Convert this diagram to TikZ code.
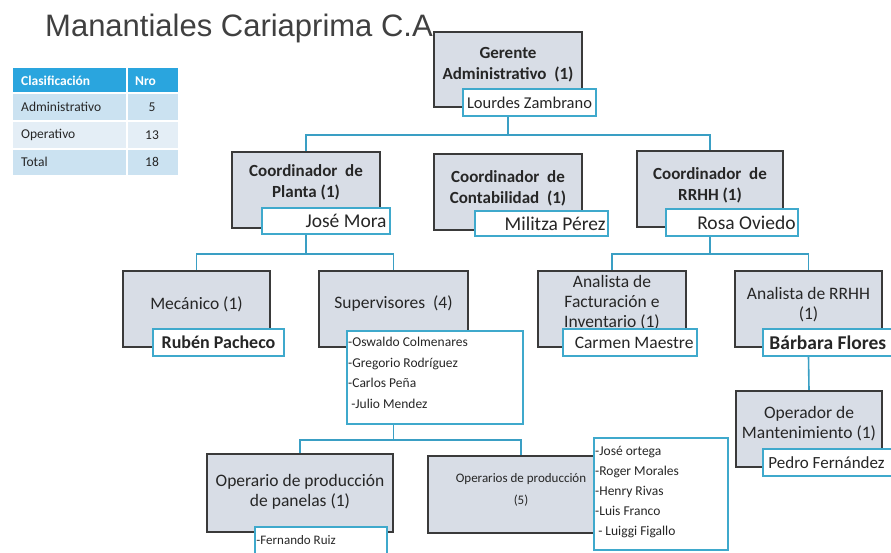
\documentclass[tikz,border=0pt]{standalone}
\usepackage{fontspec}
\setmainfont{Carlito}
\newfontfamily\titlefont{Liberation Sans}
\usetikzlibrary{backgrounds}
\definecolor{boxfill}{HTML}{D8DDE6}
\definecolor{boxline}{HTML}{3A3A3A}
\definecolor{cyanline}{HTML}{3FA9CC}
\definecolor{connc}{HTML}{3A9FC4}
\definecolor{txt}{HTML}{262626}
\definecolor{thead}{HTML}{2AA5DE}
\definecolor{trowa}{HTML}{CBE2F1}
\definecolor{trowb}{HTML}{E4EEF6}
\tikzset{
  gbox/.style={draw=boxline, fill=boxfill, line width=1.6pt, inner sep=0pt, rectangle},
  nbox/.style={draw=cyanline, fill=white, line width=1.5pt, inner sep=0pt, rectangle, text=txt},
  conn/.style={draw=connc, line width=1.6pt},
  gtext/.style={align=center, text=txt, inner sep=0pt, font=\fontsize{17.5}{20}\selectfont},
  btext/.style={align=center, text=txt, inner sep=0pt, font=\bfseries\fontsize{17}{21}\selectfont},
  ttext/.style={inner sep=0pt, text=txt, font=\fontsize{13.5}{15}\selectfont},
  thtext/.style={inner sep=0pt, anchor=west, text=white, font=\bfseries\fontsize{13.5}{15}\selectfont},
  ltext/.style={inner sep=0pt, text=txt, align=left, anchor=north west},
  ntext/.style={inner sep=0pt, text=txt},
}
\begin{document}
\begin{tikzpicture}[x=1pt,y=-1pt]
\clip (0,0) rectangle (891,552);

% title
\node[anchor=base west, inner sep=0pt, text=black!75, font=\titlefont\fontsize{31}{34}\selectfont] (title) at (45,36.5) {Manantiales Cariaprima C.A};

% table
\fill[thead] (13,68) rectangle (178,93);
\fill[trowa] (13,93) rectangle (178,121);
\fill[trowb] (13,121) rectangle (178,149);
\fill[trowa] (13,149) rectangle (178,175);
\draw[white, line width=1.5pt] (127,68) -- (127,175);
\draw[white, line width=1.5pt] (13,93) -- (178,93);
\draw[white, line width=1.5pt] (13,121) -- (178,121);
\draw[white, line width=1.5pt] (13,149) -- (178,149);
\node[thtext] (th1) at (21,81) {Clasificación};
\node[thtext] (th2) at (135,81) {Nro};
\node[ttext, anchor=west] (r1a) at (21,107) {Administrativo};
\node[ttext] (r1b) at (152,107) {5};
\node[ttext, anchor=west] (r2a) at (21,135) {Operativo};
\node[ttext] (r2b) at (152,135) {13};
\node[ttext, anchor=west] (r3a) at (21,162) {Total};
\node[ttext] (r3b) at (152,162) {18};

% level 1
\node[gbox, minimum width=148pt, minimum height=75pt] (ger) at (508,69.5) {};
\node[btext] (ger-t) at ([yshift=4.5pt]ger.center) {Gerente\\Administrativo\ \ (1)};
\node[nbox, minimum width=133pt, minimum height=27pt, font=\fontsize{16.5}{18}\selectfont] (lz) at (529.5,102.5) {Lourdes Zambrano};

% level 2
\node[gbox, minimum width=148pt, minimum height=76pt] (cp) at (306,190) {};
\node[btext] (cp-t) at ([yshift=8pt]cp.center) {Coordinador\ \ de\\Planta (1)};
\node[nbox, minimum width=128pt, minimum height=26pt] (jm) at (326,221) {};
\node[ntext, anchor=east, font=\fontsize{19.5}{22}\selectfont] (jm-t) at ([xshift=-4pt]jm.east) {José Mora};

\node[gbox, minimum width=148pt, minimum height=76pt] (cc) at (508,192) {};
\node[btext] (cc-t) at ([yshift=4pt]cc.center) {Coordinador\ \ de\\Contabilidad\ \ (1)};
\node[nbox, minimum width=133pt, minimum height=25pt] (mp) at (541.5,223.5) {};
\node[ntext, anchor=east, font=\fontsize{19.5}{22}\selectfont] (mp-t) at ([xshift=-3pt]mp.east) {Militza Pérez};

\node[gbox, minimum width=146pt, minimum height=76pt] (cr) at (710,189) {};
\node[btext] (cr-t) at ([yshift=4pt]cr.center) {Coordinador\ \ de\\RRHH (1)};
\node[nbox, minimum width=132pt, minimum height=27pt] (ro) at (732,222.5) {};
\node[ntext, anchor=east, font=\fontsize{19.5}{22}\selectfont] (ro-t) at ([xshift=-3pt]ro.east) {Rosa Oviedo};

% level 3
\node[gbox, minimum width=147pt, minimum height=76pt] (mec) at (196.5,309) {};
\node[gtext] (mec-t) at ([yshift=5pt]mec.center) {Mecánico (1)};
\node[nbox, minimum width=131pt, minimum height=27pt, font=\bfseries\fontsize{18}{20}\selectfont] (rp) at (218.5,342.5) {Rubén Pacheco};

\node[gbox, minimum width=149pt, minimum height=76pt] (sup) at (393.5,309) {};
\node[gtext] (sup-t) at ([yshift=5pt]sup.center) {Supervisores\ \ (4)};
\node[nbox, minimum width=176pt, minimum height=93pt] (supn) at (435,377.5) {};
\node[ltext, font=\fontsize{13.5}{20.5}\selectfont] (supn-t) at (348,337) {-Oswaldo Colmenares\\-Gregorio Rodríguez\\-Carlos Peña\\\ -Julio Mendez};

\node[gbox, minimum width=148pt, minimum height=76pt] (af) at (612,309) {};
\node[gtext] (af-t) at ([yshift=6pt]af.center) {Analista de\\Facturación e\\Inventario (1)};
\node[nbox, minimum width=134pt, minimum height=27pt] (cm) at (630,342.5) {};
\node[ntext, anchor=east, font=\fontsize{17.5}{20}\selectfont] (cm-t) at ([xshift=-4pt]cm.east) {Carmen Maestre};

\node[gbox, minimum width=147pt, minimum height=76pt] (ar) at (808.5,309) {};
\node[gtext] (ar-t) at ([yshift=4pt]ar.center) {Analista de RRHH\\(1)};
\node[nbox, minimum width=134pt, minimum height=27pt] (bf) at (830,342.5) {};
\node[ntext, anchor=west, font=\bfseries\fontsize{19.5}{22}\selectfont] (bf-t) at ([xshift=7pt]bf.west) {Bárbara Flores};

\node[gbox, minimum width=146pt, minimum height=76pt] (om) at (809,429) {};
\node[gtext] (om-t) at ([yshift=5pt]om.center) {Operador de\\Mantenimiento (1)};
\node[nbox, minimum width=134pt, minimum height=27pt] (pf) at (830,462.5) {};
\node[ntext, anchor=west, font=\fontsize{17}{20}\selectfont] (pf-t) at ([xshift=6pt]pf.west) {Pedro Fernández};

% level 4
\node[gbox, minimum width=186pt, minimum height=78pt] (opp) at (300,493) {};
\node[gtext] (opp-t) at ([yshift=1.5pt]opp.center) {Operario de producción\\de panelas (1)};
\node[nbox, minimum width=132pt, minimum height=29pt] (fr) at (321,541.5) {};
\node[ntext, anchor=west, font=\fontsize{13}{15}\selectfont] (fr-t) at ([xshift=2pt, yshift=1pt]fr.west) {-Fernando Ruiz};

\node[gbox, minimum width=186pt, minimum height=77pt] (ops) at (521,494.5) {};
\node[gtext, font=\fontsize{13}{22}\selectfont] (ops-t) at ([yshift=5pt]ops.center) {Operarios de producción\\(5)};
\node[nbox, minimum width=134pt, minimum height=112pt] (opn) at (661,494) {};
\node[ltext, font=\fontsize{13.5}{20}\selectfont] (opn-t) at (595,446) {-José ortega\\-Roger Morales\\-Henry Rivas\\-Luis Franco\\\ - Luiggi Figallo};

% connectors
\begin{scope}[on background layer]
\fill[white] (0,0) rectangle (891,552);
\draw[conn] (ger.center |- lz.south) -- ++(0,18) coordinate (b1) -| (cp.north);
\draw[conn] (b1) -| (cr.north);
\draw[conn] (cp.center |- jm.south) -- ++(0,19) coordinate (b2) -| (mec.north);
\draw[conn] (b2) -| (sup.north);
\draw[conn] (cr.center |- ro.south) -- ++(0,17) coordinate (b3) -| (af.north);
\draw[conn] (b3) -| (ar.north);
\draw[conn] (ar.center |- bf.south) -- (om.north);
\draw[conn] (sup.center |- supn.south) -- ++(0,15) coordinate (b4) -| (opp.north);
\draw[conn] (b4) -| (ops.north);
\end{scope}
\end{tikzpicture}
\end{document}
